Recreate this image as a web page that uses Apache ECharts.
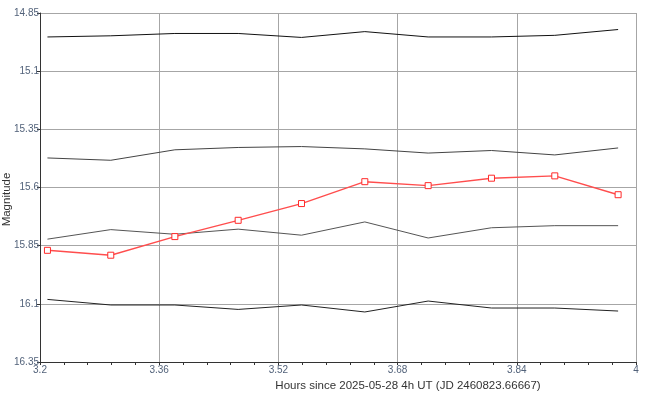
<!DOCTYPE html>
<html>
<head>
<meta charset="utf-8">
<script src="https://cdn.jsdelivr.net/npm/echarts@6/dist/echarts.min.js"></script>
<style>html,body{margin:0;padding:0;background:#fff}#c{width:648px;height:397px}</style>
</head>
<body>
<div id="c"></div>
<script>
// Hours since 2025-05-28 4h UT
const hours = [3.210, 3.295, 3.381, 3.466, 3.551, 3.636, 3.721, 3.806, 3.891, 3.976];
// Magnitudes
const target = [15.870, 15.891, 15.811, 15.741, 15.669, 15.575, 15.592, 15.560, 15.550, 15.631];
const comp1 = [14.953, 14.948, 14.938, 14.938, 14.955, 14.930, 14.953, 14.953, 14.946, 14.921];
const comp2 = [15.473, 15.483, 15.438, 15.428, 15.424, 15.434, 15.452, 15.441, 15.460, 15.430];
const comp3 = [15.822, 15.781, 15.801, 15.779, 15.805, 15.748, 15.817, 15.773, 15.764, 15.764];
const comp4 = [16.081, 16.105, 16.105, 16.124, 16.105, 16.135, 16.088, 16.118, 16.118, 16.131];
const xTicks = [3.2, 3.36, 3.52, 3.68, 3.84, 4];
const yTicks = [14.85, 15.1, 15.35, 15.6, 15.85, 16.1, 16.35];

const yBase = yTicks[0];
const toPairs = arr => hours.map((h, i) => [h, +(arr[i] - yBase).toFixed(4)]);

const chart = echarts.init(document.getElementById('c'), null, {renderer: 'canvas'});
const labelColor = '#52627a';
const gridColor = '#a6a6a6';
const lineSeries = (arr, color) => ({
  type: 'line', data: toPairs(arr), showSymbol: false, symbol: 'none',
  lineStyle: {color: color, width: 1}, silent: true, animation: false, z: 2
});
chart.setOption({
  animation: false,
  backgroundColor: '#fff',
  grid: {left: 40, right: 12, top: 13, bottom: 35, containLabel: false, outerBoundsMode: 'none'},
  xAxis: {
    type: 'value', min: xTicks[0], max: xTicks[xTicks.length - 1], interval: 0.16,
    name: 'Hours since 2025-05-28 4h UT (JD 2460823.66667)',
    nameLocation: 'middle', nameGap: 18, nameMoveOverlap: false,
    nameTextStyle: {color: '#333', fontFamily: 'Liberation Sans, Arial', fontSize: 11.5, padding: [0, 0, 0, 140]},
    axisLine: {show: true, onZero: false, lineStyle: {color: '#333', width: 1}},
    axisTick: {show: true, length: 3, lineStyle: {color: '#333'}},
    minorTick: {show: true, splitNumber: 5, length: 3, lineStyle: {color: '#333'}},
    axisLabel: {color: labelColor, fontFamily: 'Liberation Sans, Arial', fontSize: 10, margin: 3,
      formatter: v => String(+v.toFixed(2))},
    splitLine: {show: true, lineStyle: {color: gridColor, width: 1}}
  },
  yAxis: {
    type: 'value', inverse: true, min: 0, max: +(yTicks[yTicks.length - 1] - yBase).toFixed(2), interval: 0.25,
    name: 'Magnitude', nameLocation: 'middle', nameGap: 27, nameRotate: 90, nameMoveOverlap: false,
    nameTextStyle: {color: '#333', fontFamily: 'Liberation Sans, Arial', fontSize: 11.5, padding: [0, 24, 0, 0]},
    axisLine: {show: true, onZero: false, lineStyle: {color: '#333', width: 1}},
    axisTick: {show: true, length: 3, lineStyle: {color: '#333'}},
    axisLabel: {color: labelColor, fontFamily: 'Liberation Sans, Arial', fontSize: 10, margin: 1,
      formatter: v => String(+(v + yBase).toFixed(2))},
    splitLine: {show: true, lineStyle: {color: gridColor, width: 1}}
  },
  series: [
    lineSeries(comp1, '#111'),
    lineSeries(comp2, '#444'),
    lineSeries(comp3, '#555'),
    lineSeries(comp4, '#222'),
    {
      type: 'line', data: toPairs(target), symbol: 'rect', symbolSize: 6, showSymbol: true,
      lineStyle: {color: '#ff4d4d', width: 1.4},
      itemStyle: {color: '#fff', borderColor: '#ff2a2a', borderWidth: 1},
      z: 3
    }
  ]
});
</script>
</body>
</html>
